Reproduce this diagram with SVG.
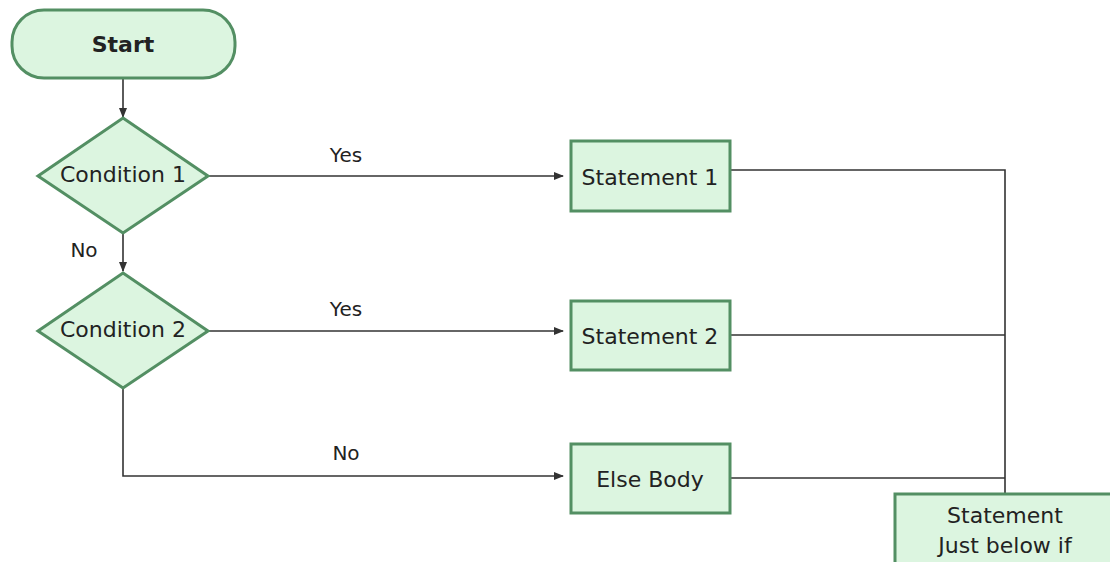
<svg xmlns="http://www.w3.org/2000/svg" width="1110" height="562" viewBox="0 0 1110 562">
<defs>
<style>
.node{fill:#dcf5e0;stroke:#538f63;stroke-width:3}
.t{font-family:"DejaVu Sans","Liberation Sans",sans-serif;font-size:22px;fill:#222;text-anchor:middle;dominant-baseline:central}
.lbl{font-family:"DejaVu Sans","Liberation Sans",sans-serif;font-size:20px;fill:#222;text-anchor:middle;dominant-baseline:central}
.c{fill:none;stroke:#333;stroke-width:1.6}
</style>
<marker id="ah" markerWidth="10" markerHeight="10" refX="9" refY="5" orient="auto" markerUnits="userSpaceOnUse">
<path d="M0,1 L10,5 L0,9 Z" fill="#333"/>
</marker>
</defs>
<rect width="1110" height="562" fill="#fff"/>
<g id="connectors">
<line class="c" x1="123" y1="79" x2="123" y2="117" marker-end="url(#ah)"/>
<line class="c" x1="123" y1="233" x2="123" y2="271" marker-end="url(#ah)"/>
<line class="c" x1="209" y1="176" x2="563" y2="176" marker-end="url(#ah)"/>
<line class="c" x1="209" y1="331" x2="563" y2="331" marker-end="url(#ah)"/>
<polyline class="c" points="123,388 123,476 563,476" marker-end="url(#ah)"/>
<polyline class="c" points="731,170 1005,170 1005,493"/>
<line class="c" x1="731" y1="335" x2="1005" y2="335"/>
<line class="c" x1="731" y1="478" x2="1005" y2="478"/>
<text class="lbl" x="346" y="155">Yes</text>
<text class="lbl" x="346" y="309">Yes</text>
<text class="lbl" x="84" y="250">No</text>
<text class="lbl" x="346" y="453">No</text>
</g>
<g id="start">
<rect class="node" x="12" y="10" width="223" height="68" rx="32"/>
<text class="t" x="123" y="44" font-weight="bold" font-size="21">Start</text>
</g>
<g id="condition1">
<polygon class="node" points="123,118 208,176 123,233 38,176"/>
<text class="t" x="123" y="174">Condition 1</text>
</g>
<g id="condition2">
<polygon class="node" points="123,273 208,331 123,388 38,331"/>
<text class="t" x="123" y="329">Condition 2</text>
</g>
<g id="statement1">
<rect class="node" x="571" y="141" width="159" height="70"/>
<text class="t" x="650" y="177">Statement 1</text>
</g>
<g id="statement2">
<rect class="node" x="571" y="301" width="159" height="69"/>
<text class="t" x="650" y="336">Statement 2</text>
</g>
<g id="elsebody">
<rect class="node" x="571" y="444" width="159" height="69"/>
<text class="t" x="650" y="479">Else Body</text>
</g>
<g id="after">
<rect class="node" x="895" y="494" width="225" height="80"/>
<text class="t" x="1005" y="515">Statement</text>
<text class="t" x="1005" y="545">Just below if</text>
</g>
</svg>
